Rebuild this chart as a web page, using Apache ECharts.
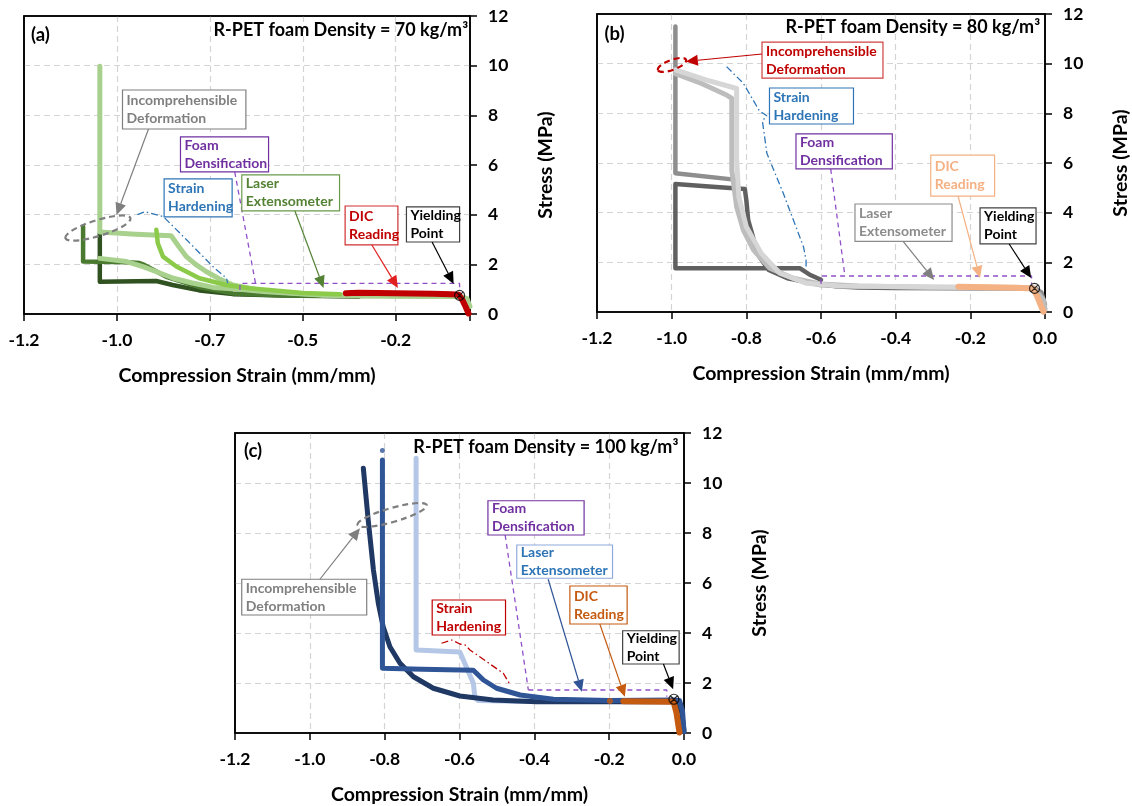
<!DOCTYPE html>
<html><head><meta charset="utf-8">
<script src="https://cdn.jsdelivr.net/npm/echarts@6/dist/echarts.min.js"></script>
<style>html,body{margin:0;padding:0;background:#fff}#c{width:1132px;height:806px}</style>
</head><body><div id="c"></div>
<script>
// ---------- tick labels ----------
const aXTickLabels = ['-1.2','-1.0','-0.7','-0.5','-0.2'];
const bcXTickLabels = ['-1.2','-1.0','-0.8','-0.6','-0.4','-0.2','0.0'];
const yTickLabels = ['0','2','4','6','8','10','12'];

// ---------- panel (a) 70 kg/m3 ----------
const aLightGreen1 = [[0,0.3],[-0.008,0.62],[-0.03,0.72],[-0.1,0.72],[-0.2,0.72],[-0.3,0.74],[-0.4,0.78],[-0.46,0.83],[-0.52,0.9],[-0.567,0.97],[-0.6,1.06],[-0.638,1.17],[-0.675,1.42],[-0.71,1.71],[-0.74,2.02],[-0.763,2.31],[-0.785,2.75],[-0.804,3.15],[-0.9,3.21],[-0.996,3.3],[-0.996,9.98]];
const aLightGreen2 = [[-0.03,0.7],[-0.2,0.71],[-0.4,0.76],[-0.549,0.9],[-0.62,1.0],[-0.691,1.07],[-0.75,1.26],[-0.798,1.44],[-0.84,1.68],[-0.88,1.91],[-0.924,2.11],[-0.996,2.24]];
const aBrightGreen = [[-0.35,0.8],[-0.45,0.85],[-0.594,1.04],[-0.656,1.17],[-0.728,1.44],[-0.79,1.91],[-0.826,2.31],[-0.84,2.85],[-0.844,3.39]];
const aDarkGreen1 = [[-0.03,0.75],[-0.15,0.74],[-0.3,0.72],[-0.504,0.74],[-0.638,0.83],[-0.728,1.08],[-0.817,1.5],[-0.88,2.0],[-0.889,2.05],[-0.92,2.08],[-1.041,2.11],[-1.041,3.52]];
const aDarkGreen2 = [[-0.3,0.7],[-0.5,0.74],[-0.638,0.8],[-0.728,0.95],[-0.8,1.17],[-0.844,1.33],[-0.996,1.3],[-0.996,3.25]];
const aDIC = [[-0.334,0.84],[-0.3,0.86],[-0.25,0.85],[-0.2,0.84],[-0.15,0.83],[-0.1,0.82],[-0.05,0.8],[-0.03,0.78],[-0.02,0.55],[-0.012,0.3],[-0.004,0.02]];
const aYield = [[-0.028,0.75]];
const aFoamGuide1 = [[-0.633,5.72],[-0.577,1.23]];
const aFoamGuide2 = [[-0.619,0.97],[-0.619,1.23],[-0.028,1.23],[-0.028,0.97]];
const aHardGuide = [[-0.895,4.0],[-0.874,4.12],[-0.825,3.92],[-0.762,2.98],[-0.691,1.9],[-0.655,1.44],[-0.652,1.24]];

// ---------- panel (b) 80 kg/m3 ----------
const bDarkGray = [[0,0.15],[-0.01,0.75],[-0.028,0.97],[-0.2,0.96],[-0.4,0.97],[-0.5,0.99],[-0.56,1.04],[-0.62,1.16],[-0.69,1.36],[-0.74,1.69],[-0.765,2.23],[-0.78,2.9],[-0.795,3.7],[-0.8,4.5],[-0.804,4.95],[-0.9,5.05],[-0.99,5.15],[-0.99,1.76],[-0.75,1.76],[-0.656,1.76],[-0.63,1.5],[-0.6,1.3]];
const bMidGray = [[0,0.3],[-0.01,0.8],[-0.03,0.97],[-0.1,0.98],[-0.3,0.99],[-0.5,1.02],[-0.603,1.09],[-0.665,1.29],[-0.728,1.69],[-0.772,2.36],[-0.799,3.17],[-0.817,4.1],[-0.821,4.78],[-0.826,5.32],[-0.99,5.59],[-0.99,11.5]];
const bLightGray1 = [[0,0.1],[-0.005,0.5],[-0.03,0.97],[-0.1,0.98],[-0.3,1.0],[-0.5,1.05],[-0.603,1.13],[-0.674,1.36],[-0.737,1.76],[-0.781,2.5],[-0.808,3.3],[-0.826,4.24],[-0.839,5.72],[-0.839,8.6],[-0.853,8.74],[-0.92,9.2],[-0.99,9.6]];
const bLightGray2 = [[-0.03,0.99],[-0.3,1.01],[-0.55,1.05],[-0.64,1.16],[-0.71,1.56],[-0.76,2.36],[-0.8,3.43],[-0.82,4.64],[-0.826,6.12],[-0.826,9.0],[-0.906,9.34],[-0.99,9.75]];
const bDIC = [[-0.232,1.02],[-0.15,1.0],[-0.08,0.98],[-0.031,0.95],[-0.02,0.6],[-0.012,0.3],[-0.004,0.01]];
const bYield = [[-0.028,0.95]];
const bFoamGuide1 = [[-0.574,5.76],[-0.536,1.45]];
const bFoamGuide2 = [[-0.6,1.13],[-0.6,1.45],[-0.036,1.45],[-0.036,1.13]];
const bHardGuide = [[-0.853,9.88],[-0.808,9.21],[-0.765,8.1],[-0.745,7.9],[-0.757,7.7],[-0.745,6.39],[-0.701,4.78],[-0.647,2.63],[-0.64,2.09],[-0.64,1.82]];

// ---------- panel (c) 100 kg/m3 ----------
const cNavy = [[0,0.1],[-0.006,0.8],[-0.02,1.25],[-0.1,1.25],[-0.2,1.25],[-0.394,1.25],[-0.51,1.32],[-0.599,1.48],[-0.67,1.79],[-0.723,2.25],[-0.759,2.79],[-0.786,3.45],[-0.804,4.25],[-0.817,5.19],[-0.83,6.52],[-0.844,8.52],[-0.857,10.59]];
const cBlue = [[0,0.05],[-0.004,0.9],[-0.012,1.3],[-0.03,1.32],[-0.2,1.3],[-0.349,1.35],[-0.438,1.52],[-0.501,1.79],[-0.536,2.12],[-0.563,2.51],[-0.7,2.55],[-0.806,2.59],[-0.806,10.92]];
const cBlueDot = [[-0.806,11.3]];
const cLightBlue = [[-0.3,1.27],[-0.45,1.27],[-0.55,1.3],[-0.559,1.45],[-0.563,1.99],[-0.582,2.65],[-0.599,3.24],[-0.716,3.32],[-0.716,10.99]];
const cDIC = [[-0.162,1.27],[-0.1,1.26],[-0.028,1.25],[-0.02,0.8],[-0.015,0.3],[-0.012,0.02]];
const cDICDot = [[-0.198,1.28]];
const cYield = [[-0.027,1.35]];
const cFoamGuide1 = [[-0.478,7.92],[-0.416,1.72]];
const cFoamGuide2 = [[-0.416,1.72],[-0.046,1.72],[-0.046,1.45]];
const cHardGuide = [[-0.648,3.59],[-0.621,3.72],[-0.599,3.56],[-0.585,3.52],[-0.572,3.32],[-0.483,2.39],[-0.467,1.99]];

// ---------- annotations (data coordinates) ----------
const annBoxes = [
  [0,'Incomprehensible\nDeformation','#7F7F7F','#7F7F7F',-0.935,9.02,-0.603,7.45],
  [0,'Foam\nDensification','#7030A0','#7030A0',-0.779,7.13,-0.542,5.72],
  [0,'Strain\nHardening','#2E75B6','#2E75B6',-0.823,5.44,-0.64,3.91],
  [0,'Laser\nExtensometer','#548235','#6A9A4A',-0.614,5.6,-0.351,4.15],
  [0,'DIC\nReading','#C00000','#D03030',-0.336,4.35,-0.194,2.78],
  [0,'Yielding\nPoint','#000000','#404040',-0.171,4.31,-0.028,2.9],
  [1,'Incomprehensible\nDeformation','#C00000','#D04040',-0.758,10.87,-0.434,9.42],
  [1,'Strain\nHardening','#2E75B6','#2E75B6',-0.738,9.02,-0.513,7.57],
  [1,'Foam\nDensification','#7030A0','#7030A0',-0.667,7.17,-0.409,5.76],
  [1,'DIC\nReading','#F4B183','#F4B183',-0.306,6.32,-0.135,4.67],
  [1,'Laser\nExtensometer','#8C8C8C','#8C8C8C',-0.509,4.35,-0.249,2.84],
  [1,'Yielding\nPoint','#000000','#404040',-0.174,4.19,-0.024,2.74],
  [2,'Foam\nDensification','#7030A0','#7030A0',-0.524,9.29,-0.267,7.92],
  [2,'Laser\nExtensometer','#2E75B6','#8FAADC',-0.447,7.52,-0.191,6.19],
  [2,'DIC\nReading','#C55A11','#C55A11',-0.305,5.88,-0.152,4.36],
  [2,'Yielding\nPoint','#000000','#404040',-0.164,4.09,-0.013,2.76],
  [2,'Strain\nHardening','#C00000','#C00000',-0.673,5.32,-0.477,3.92],
  [2,'Incomprehensible\nDeformation','#7F7F7F','#7F7F7F',-1.182,6.15,-0.848,4.72]
];
const annArrows = [
  [0,'#7F7F7F',-0.865,7.45,-0.951,3.99],
  [0,'#548235',-0.471,4.15,-0.394,1.05],
  [0,'#E02020',-0.264,2.78,-0.194,1.05],
  [0,'#000000',-0.102,2.9,-0.044,1.21],
  [1,'#C00000',-0.758,10.39,-0.962,10.09],
  [1,'#F4B183',-0.233,4.67,-0.174,1.37],
  [1,'#7F7F7F',-0.38,2.84,-0.297,1.29],
  [1,'#000000',-0.096,2.74,-0.037,1.37],
  [2,'#2F5597',-0.363,6.15,-0.273,1.65],
  [2,'#C55A11',-0.225,4.36,-0.158,1.45],
  [2,'#000000',-0.055,2.76,-0.029,1.75],
  [2,'#7F7F7F',-0.973,6.15,-0.866,8.19]
];
const annEllipses = [
  [0,'#7F7F7F',-1.001,3.46,34,8,0.3],
  [1,'#C00000',-0.999,9.95,15,5,0.35],
  [2,'#7F7F7F',-0.78,8.72,36,7,0.28]
];
const annPanelTags = [[0,'(a)',-1.181,11.22],[1,'(b)',-1.18,11.2],[2,'(c)',-1.176,11.26]];
const annTitles = [
  [0,'R-PET foam Density = 70 kg/m³',-0.005,11.44],
  [1,'R-PET foam Density = 80 kg/m³',-0.013,11.47],
  [2,'R-PET foam Density = 100 kg/m³',-0.015,11.45]
];

// ---------- chart ----------
const FONT = 'Lato, "Open Sans", sans-serif';
const chart = echarts.init(document.getElementById('c'));
const grids = [
  {left:24, top:16, width:446, height:298},
  {left:597, top:14, width:448, height:298},
  {left:235, top:433, width:449, height:300}
];
const splitStyle = {show:true, showMinLine:false, showMaxLine:false, lineStyle:{color:'#D4D4D4', width:1.2, type:[6,4]}};
function xAx(gi, interval, labels){
  return {type:'value', gridIndex:gi, min:-1.2, max:0, interval:interval, position:'bottom',
    name:'Compression Strain (mm/mm)', nameLocation:'middle', nameGap:52,
    nameTextStyle:{fontFamily:FONT, fontWeight:'bold', fontSize:19.5, color:'#000'},
    axisLine:{show:true, onZero:false, lineStyle:{color:'#000', width:1.6}},
    axisTick:{show:true, length:7, lineStyle:{color:'#000', width:1.5}},
    axisLabel:{fontFamily:FONT, fontWeight:'bold', fontSize:17.5, color:'#000', margin:17,
      formatter:(v,i)=> (labels[i] !== undefined ? labels[i] : '')},
    splitLine:splitStyle};
}
function yAx(gi){
  return {type:'value', gridIndex:gi, min:0, max:12, interval:2, position:'right',
    name:'Stress (MPa)', nameLocation:'middle', nameGap:66, nameRotate:90,
    nameTextStyle:{fontFamily:FONT, fontWeight:'bold', fontSize:19.5, color:'#000'},
    axisLine:{show:true, onZero:false, lineStyle:{color:'#000', width:1.6}},
    axisTick:{show:true, length:7, lineStyle:{color:'#000', width:1.5}},
    axisLabel:{fontFamily:FONT, fontWeight:'bold', fontSize:17.5, color:'#000', margin:18,
      formatter:(v,i)=> (yTickLabels[i] !== undefined ? yTickLabels[i] : '')},
    splitLine:splitStyle};
}
function curve(gi, data, color, width, z){
  return {type:'line', xAxisIndex:gi, yAxisIndex:gi, data:data, symbol:'none', showSymbol:false,
    clip:false, silent:true, z:z||2, lineStyle:{color:color, width:width, cap:'round', join:'round'}};
}
function guide(gi, data, color, dash){
  return {type:'line', xAxisIndex:gi, yAxisIndex:gi, data:data, symbol:'none', showSymbol:false,
    clip:false, silent:true, z:5, lineStyle:{color:color, width:1.3, type:dash}};
}
function dots(gi, data, color, size){
  return {type:'scatter', xAxisIndex:gi, yAxisIndex:gi, data:data, symbol:'circle', symbolSize:size,
    silent:true, z:4, itemStyle:{color:color}};
}
const YIELD_SYM = 'path://M5,0 A5,5 0 1,1 4.99,0 Z M1.5,1.5 L8.5,8.5 M8.5,1.5 L1.5,8.5';
function yieldPt(gi, data){
  return {type:'scatter', xAxisIndex:gi, yAxisIndex:gi, data:data, symbol:YIELD_SYM, symbolSize:10,
    silent:true, z:8, itemStyle:{color:'rgba(0,0,0,0)', borderColor:'#000', borderWidth:1.2}};
}
const DASH = [5,4], DASHDOT = [7,3,1.5,3];
const series = [
  curve(0, aDarkGreen2, '#2F5220', 4.5, 2),
  curve(0, aDarkGreen1, '#4A7A30', 4.5, 2),
  curve(0, aLightGreen2, '#A9D18E', 5, 3),
  curve(0, aLightGreen1, '#A9D18E', 5, 3),
  curve(0, aBrightGreen, '#8CCB4A', 4.5, 3),
  curve(0, aDIC, '#C00000', 6, 4),
  guide(0, aFoamGuide1, '#9150C8', DASH),
  guide(0, aFoamGuide2, '#9150C8', DASH),
  guide(0, aHardGuide, '#2E75B6', DASHDOT),
  yieldPt(0, aYield),

  curve(1, bDarkGray, '#606060', 4.5, 2),
  curve(1, bMidGray, '#8E8E8E', 4.5, 2),
  curve(1, bLightGray1, '#BDBDBD', 5, 3),
  curve(1, bLightGray2, '#D6D6D6', 5, 3),
  curve(1, bDIC, '#F4B183', 6, 4),
  guide(1, bFoamGuide1, '#9150C8', DASH),
  guide(1, bFoamGuide2, '#9150C8', DASH),
  guide(1, bHardGuide, '#2E75B6', DASHDOT),
  yieldPt(1, bYield),

  curve(2, cLightBlue, '#B4C7E7', 5, 2),
  curve(2, cNavy, '#1F3864', 5, 3),
  curve(2, cBlue, '#2F5597', 5, 3),
  dots(2, cBlueDot, '#2F5597', 5),
  curve(2, cDIC, '#C55A11', 6, 4),
  dots(2, cDICDot, '#C55A11', 6),
  guide(2, cFoamGuide1, '#9150C8', DASH),
  guide(2, cFoamGuide2, '#9150C8', DASH),
  guide(2, cHardGuide, '#C00000', DASHDOT),
  yieldPt(2, cYield)
];
chart.setOption({
  animation:false,
  backgroundColor:'#ffffff',
  grid: grids.map(g=>Object.assign({show:true, borderColor:'#000', borderWidth:1.6, backgroundColor:'rgba(0,0,0,0)', containLabel:false}, g)),
  xAxis:[xAx(0,0.25,aXTickLabels), xAx(1,0.2,bcXTickLabels), xAx(2,0.2,bcXTickLabels)],
  yAxis:[yAx(0), yAx(1), yAx(2)],
  series: series
});

// ---------- annotation graphics ----------
function px(gi, x, y){ return chart.convertToPixel({gridIndex:gi}, [x,y]); }
const graphics = [];
// plot frames (top and left edges) drawn above the dashed grid
grids.forEach((g,gi)=>{
  const tl = px(gi, -1.2, 12), br = px(gi, 0, 0);
  graphics.push({type:'polyline', z:40, silent:true,
    shape:{points:[[tl[0],br[1]],[tl[0],tl[1]],[br[0],tl[1]]]},
    style:{stroke:'#000', lineWidth:1.6, fill:'none'}});
});
annBoxes.forEach(b=>{
  const p0 = px(b[0], b[4], b[5]), p1 = px(b[0], b[6], b[7]);
  graphics.push({type:'rect', z:50, silent:true,
    shape:{x:p0[0], y:p0[1], width:p1[0]-p0[0], height:p1[1]-p0[1]},
    style:{fill:'#fff', stroke:b[3], lineWidth:1.2}});
  graphics.push({type:'text', z:51, silent:true, x:p0[0]+4, y:(p0[1]+p1[1])/2,
    style:{text:b[1], fill:b[2], fontFamily:FONT, fontWeight:'bold', fontSize:14, lineHeight:18,
      align:'left', verticalAlign:'middle'}});
});
annArrows.forEach(a=>{
  const p0 = px(a[0], a[2], a[3]), p1 = px(a[0], a[4], a[5]);
  const dx = p1[0]-p0[0], dy = p1[1]-p0[1], L = Math.hypot(dx,dy);
  const ux = dx/L, uy = dy/L, hl = 12, hw = 5.5;
  const bx = p1[0]-ux*hl, by = p1[1]-uy*hl;
  graphics.push({type:'line', z:52, silent:true, shape:{x1:p0[0], y1:p0[1], x2:bx, y2:by},
    style:{stroke:a[1], lineWidth:1.2}});
  graphics.push({type:'polygon', z:52, silent:true,
    shape:{points:[[p1[0],p1[1]],[bx-uy*hw, by+ux*hw],[bx+uy*hw, by-ux*hw]]},
    style:{fill:a[1]}});
});
annEllipses.forEach(e=>{
  const c = px(e[0], e[2], e[3]);
  graphics.push({type:'ellipse', z:53, silent:true, x:c[0], y:c[1], rotation:e[6],
    shape:{cx:0, cy:0, rx:e[4], ry:e[5]},
    style:{fill:'none', stroke:e[1], lineWidth:2.2, lineDash:[6,4]}});
});
annPanelTags.forEach(t=>{
  const p = px(t[0], t[2], t[3]);
  graphics.push({type:'text', z:54, silent:true, x:p[0], y:p[1],
    style:{text:t[1], fill:'#000', fontFamily:FONT, fontWeight:'bold', fontSize:18.5, align:'left', verticalAlign:'middle'}});
});
annTitles.forEach(t=>{
  const p = px(t[0], t[2], t[3]);
  graphics.push({type:'text', z:54, silent:true, x:p[0], y:p[1],
    style:{text:t[1], fill:'#000', fontFamily:FONT, fontWeight:'bold', fontSize:18, align:'right', verticalAlign:'middle'}});
});
chart.setOption({graphic: graphics});
</script>
</body></html>
